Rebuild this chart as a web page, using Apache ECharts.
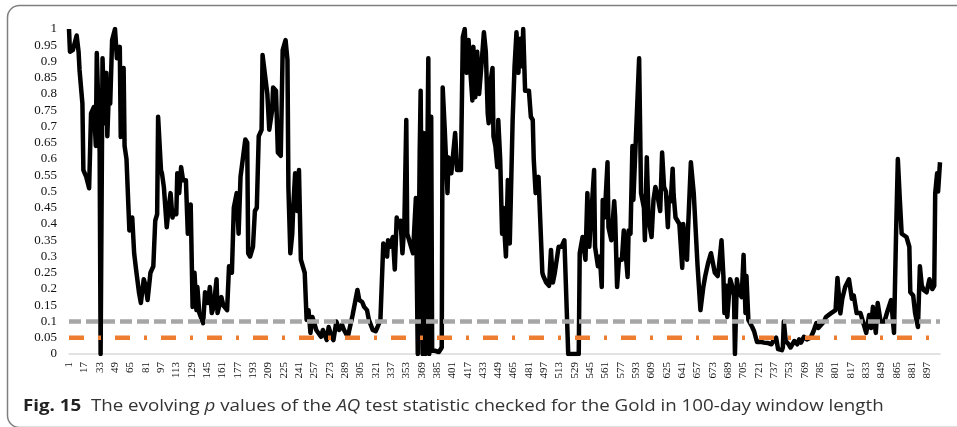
<!DOCTYPE html>
<html>
<head>
<meta charset="utf-8">
<script src="https://cdn.jsdelivr.net/npm/echarts@6/dist/echarts.min.js"></script>
<style>
html,body{margin:0;padding:0;background:#fff;}
#chart{width:957px;height:427px;}
</style>
</head>
<body>
<div id="chart"></div>
<script>
// number of observation windows (category labels 1..N)
var N = 910;
var categories = [];
for (var k = 1; k <= N; k++) categories.push(String(k));

// vertices of the p-value path (0-based window index, p value)
var dayIndex = [0,1,4,8,10,11,14,15,18,21,23,26,28,29,31,32,33,35,37,39,40,42,43,45,48,50,53,54,57,58,60,63,66,68,70,73,75,78,80,82,85,88,90,92,93,96,97,99,102,104,106,108,110,112,113,115,117,119,122,124,127,129,131,133,134,136,140,142,145,147,149,151,154,155,159,161,165,167,170,172,175,177,179,
184,186,187,189,192,194,196,198,201,202,204,207,209,212,213,216,218,221,223,226,228,229,231,233,234,236,238,240,242,246,248,250,252,254,256,258,260,263,265,269,271,274,276,279,282,285,287,291,293,296,298,301,303,306,308,311,313,317,320,322,325,328,330,332,333,335,338,340,342,344,346,348,350,352,353,356,359,
362,364,366,367,369,370,372,375,376,378,379,382,386,389,390,392,395,396,399,401,403,405,409,411,413,415,417,419,421,422,424,426,428,431,433,435,437,438,440,442,443,445,447,448,450,452,453,456,458,460,463,465,467,469,471,473,474,476,480,482,484,485,487,490,492,494,495,498,501,503,505,507,510,511,514,517,519,521,527,532,533,536,537,539,541,543,548,549,552,554,556,557,559,562,563,566,569,570,572,574,577,579,581,583,584,586,588,589,591,595,597,600,601,603,605,608,610,612,614,617,619,621,623,625,626,628,630,631,633,635,637,640,641,643,645,646,649,652,654,656,657,659,662,664,667,668,670,672,674,677,678,681,683,684,686,687,690,692,694,695,697,699,702,704,706,707,709,713,715,718,722,725,729,733,735,738,740,744,745,746,748,751,753,757,760,762,764,767,770,774,777,780,782,785,788,790,795,800,802,805,807,810,814,817,819,822,826,828,832,835,837,839,842,844,847,851,854,858,861,863,865,867,869,874,877,878,881,883,886,888,890,892,895,898,901,903,904,906,907,909];
var pValue = [1.0,0.93,0.935,0.98,0.93,0.874,0.77,0.566,0.545,0.51,0.74,0.76,0.64,0.926,0.93,0.62,0.0,0.91,0.71,0.865,0.67,0.84,0.77,0.966,1.0,0.91,0.945,0.668,0.88,0.64,0.6,0.38,0.42,0.31,0.26,0.19,0.157,0.23,0.21,0.166,0.25,0.27,0.41,0.43,0.73,0.566,0.556,0.514,0.39,0.45,0.495,0.42,0.44,0.43,0.556,0.495,0.575,0.535,0.535,0.37,0.46,0.145,0.25,0.135,0.206,0.126,0.095,0.19,0.157,0.206,0.126,0.145,0.23,0.126,0.175,0.15,0.135,0.27,0.25,0.45,0.495,0.37,0.545,
0.66,0.65,0.31,0.30,0.33,0.44,0.45,0.67,0.69,0.92,0.915,0.80,0.69,0.75,0.82,0.81,0.62,0.61,0.935,0.966,0.905,0.51,0.31,0.37,0.45,0.556,0.44,0.566,0.29,0.25,0.105,0.135,0.065,0.114,0.095,0.074,0.08,0.053,0.074,0.043,0.083,0.053,0.043,0.1,0.074,0.09,0.074,0.053,0.08,0.12,0.125,0.197,0.166,0.16,0.145,0.135,0.105,0.074,0.07,0.083,0.105,0.34,0.33,0.30,0.35,0.33,0.36,0.26,0.42,0.39,0.41,0.31,0.40,0.72,0.37,0.34,0.31,
0.48,0.0,0.62,0.81,0.0,0.68,0.0,0.91,0.0,0.73,0.01,0.01,0.006,0.02,0.82,0.70,0.495,0.605,0.556,0.56,0.68,0.566,0.566,0.975,1.0,0.865,0.966,0.865,0.78,0.945,0.79,0.93,0.80,0.91,0.99,0.93,0.74,0.71,0.84,0.88,0.67,0.64,0.575,0.72,0.6,0.37,0.45,0.30,0.535,0.34,0.72,0.885,0.99,0.865,0.97,0.885,1.0,0.81,0.81,0.73,0.72,0.6,0.495,0.545,0.54,0.25,0.24,0.22,0.21,0.32,0.22,0.25,0.31,0.33,0.33,0.35,0.345,0.0,0.0,0.0,0.31,0.36,0.33,0.29,0.495,0.33,0.566,0.33,0.27,0.30,0.206,0.474,0.42,0.59,0.39,0.35,0.47,0.42,0.206,0.29,0.29,0.38,0.38,0.237,0.38,0.37,0.64,0.474,0.47,0.91,0.495,0.45,0.35,0.605,0.41,0.36,0.474,0.514,0.49,0.44,0.62,0.514,0.5,0.39,0.48,0.47,0.57,0.49,0.42,0.41,0.40,0.265,0.40,0.40,0.29,0.38,0.59,0.495,0.495,0.27,0.27,0.135,0.206,0.24,0.28,0.29,0.31,0.28,0.25,0.24,0.26,0.35,0.237,0.126,0.21,0.114,0.23,0.21,0.18,0.0,0.23,0.19,0.175,0.305,0.126,0.24,0.105,0.083,0.07,0.037,0.038,0.035,0.034,0.03,0.04,0.05,0.015,0.012,0.02,0.1,0.04,0.03,0.02,0.04,0.03,0.045,0.035,0.053,0.045,0.05,0.07,0.095,0.08,0.09,0.1,0.114,0.125,0.135,0.234,0.125,0.17,0.206,0.23,0.17,0.18,0.126,0.126,0.12,0.065,0.12,0.08,0.145,0.065,0.157,0.1,0.1,0.13,0.166,0.065,0.35,0.6,0.48,0.37,0.36,0.33,0.19,0.18,0.126,0.083,0.27,0.21,0.197,0.19,0.23,0.2,0.21,0.495,0.556,0.5,0.59];

// significance thresholds
var thresholds = [0.1, 0.05];
var yTickStep = 0.05;

var captionBold = 'Fig. 15';
var captionText = 'The evolving {i|p} values of the {i|AQ} test statistic checked for the Gold in 100-day window length';

var chart = echarts.init(document.getElementById('chart'), null, {renderer: 'canvas'});
var seriesData = dayIndex.map(function (x, i) { return [x, pValue[i]]; });

chart.setOption({
  animation: false,
  backgroundColor: '#ffffff',
  grid: {left: 69, top: 29, width: 871, bottom: 73, containLabel: false},
  xAxis: {
    type: 'category',
    data: categories,
    boundaryGap: false,
    axisLine: {lineStyle: {color: '#d9d9d9', width: 1.5}},
    axisTick: {show: false},
    splitLine: {show: false},
    axisLabel: {
      interval: 15,
      rotate: 90,
      margin: 8,
      fontFamily: 'Liberation Serif',
      fontSize: 11,
      color: '#111'
    }
  },
  yAxis: {
    type: 'value',
    min: 0,
    max: 1,
    interval: yTickStep,
    axisLine: {show: false},
    axisTick: {show: false},
    splitLine: {show: false},
    axisLabel: {
      margin: 12,
      fontFamily: 'Liberation Serif',
      fontSize: 13,
      color: '#111',
      formatter: function (v) { return String(Math.round(v * 100) / 100); }
    }
  },
  series: [
    {
      type: 'line',
      data: seriesData,
      showSymbol: false,
      symbol: 'none',
      lineStyle: {color: '#000', width: 4.5, join: 'round'},
      z: 2
    },
    {
      type: 'line',
      data: [[0, thresholds[0]], [N - 1, thresholds[0]]],
      symbol: 'none',
      lineStyle: {color: '#a6a6a6', width: 4.5, type: [12, 5]},
      z: 3
    },
    {
      type: 'line',
      data: [[0, thresholds[1]], [N - 1, thresholds[1]]],
      symbol: 'none',
      lineStyle: {color: '#ed7d31', width: 4.5, type: [15, 14, 3, 14]},
      z: 3
    }
  ],
  graphic: [
    {
      type: 'rect',
      shape: {x: 7.5, y: 5.5, width: 980, height: 422, r: 12},
      style: {fill: 'none', stroke: '#7f7f7f', lineWidth: 1.5},
      silent: true,
      z: 0
    },
    {
      type: 'text',
      x: 23,
      y: 398,
      scaleX: 1.17,
      style: {
        text: '{b|' + captionBold + '}  ' + captionText,
        font: '16px "Open Sans"',
        fill: '#333',
        rich: {
          b: {fontFamily: 'Open Sans', fontWeight: 'bold', fontSize: 16, fill: '#222'},
          i: {fontFamily: 'Open Sans', fontStyle: 'italic', fontSize: 16, fill: '#333'}
        }
      }
    }
  ]
});
</script>
</body>
</html>
